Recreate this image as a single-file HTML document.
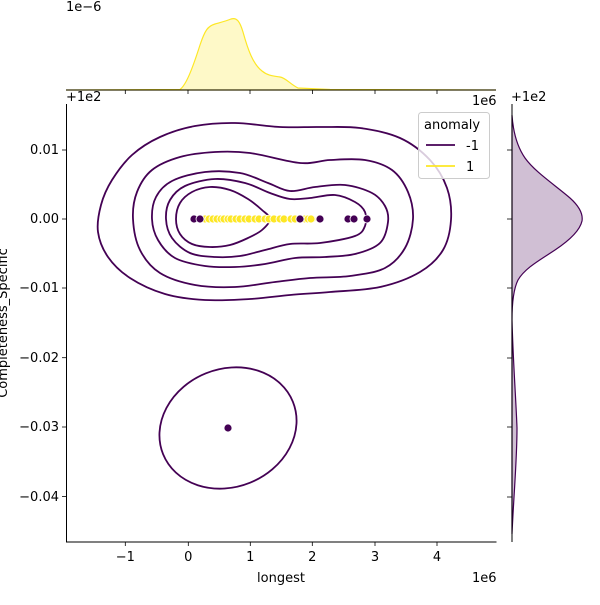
<!DOCTYPE html>
<html><head><meta charset="utf-8"><style>
body{margin:0;background:#fff;}
svg text{font-family:"DejaVu Sans","Liberation Sans",sans-serif;font-size:13px;fill:#000;}
</style></head><body>
<svg id="s" width="600" height="600" xmlns="http://www.w3.org/2000/svg">
<rect width="600" height="600" fill="#fff"/>
<g id="contours" fill="none" stroke="#440154" stroke-width="1.8"></g>
<ellipse cx="228" cy="428" rx="70" ry="59" transform="rotate(-22 228 428)" fill="none" stroke="#440154" stroke-width="1.8"/>
<g id="pts"></g>
<!-- top marginal -->
<path d="M66,90 L180,89.5 C186,85 192,70 200,45 C205,30 208,26 215,24 C222,22 226,21 231,19 C237,17 240,22 243,32 C248,50 253,64 262,71 C268,76 274,76 280,77 C286,78 290,84 298,88 L330,89.5 L496,90 Z" fill="#fde725" fill-opacity="0.25" stroke="#fde725" stroke-width="1.2"/>
<line x1="66" y1="90" x2="496" y2="90" stroke="#000" stroke-width="1"/>
<g stroke="#000" stroke-width="0.8"><line x1="125.3" y1="90" x2="125.3" y2="94"/><line x1="188" y1="90" x2="188" y2="94"/><line x1="250" y1="90" x2="250" y2="94"/><line x1="312.5" y1="90" x2="312.5" y2="94"/><line x1="375" y1="90" x2="375" y2="94"/><line x1="437" y1="90" x2="437" y2="94"/></g>
<text x="66" y="11">1e−6</text>
<!-- right marginal -->
<path d="M512,115 C513,130 516,145 525,158 C535,172 555,185 570,198 C580,207 583,215 582,221 C580,230 570,240 555,250 C540,260 525,268 518,280 C513,290 512,305 512,320 C513,360 516,400 517,428 C517,460 514,490 512,534 Z" fill="#440154" fill-opacity="0.25" stroke="#440154" stroke-width="1.2"/>
<line x1="512" y1="104" x2="512" y2="542" stroke="#000" stroke-width="1"/>
<g stroke="#000" stroke-width="0.8"><line x1="507" y1="150" x2="512" y2="150"/><line x1="507" y1="219" x2="512" y2="219"/><line x1="507" y1="288" x2="512" y2="288"/><line x1="507" y1="358" x2="512" y2="358"/><line x1="507" y1="427" x2="512" y2="427"/><line x1="507" y1="497" x2="512" y2="497"/></g>
<text x="511" y="101">+1e2</text>
<!-- main axes -->
<line x1="66.5" y1="104" x2="66.5" y2="542" stroke="#000" stroke-width="1"/>
<line x1="66" y1="542" x2="496.5" y2="542" stroke="#000" stroke-width="1"/>
<g stroke="#000" stroke-width="0.8">
<line x1="125.3" y1="542" x2="125.3" y2="546"/><line x1="188.3" y1="542" x2="188.3" y2="546"/><line x1="250.3" y1="542" x2="250.3" y2="546"/><line x1="312.3" y1="542" x2="312.3" y2="546"/><line x1="375" y1="542" x2="375" y2="546"/><line x1="437" y1="542" x2="437" y2="546"/>
<line x1="62" y1="150" x2="66" y2="150"/><line x1="62" y1="219" x2="66" y2="219"/><line x1="62" y1="288" x2="66" y2="288"/><line x1="62" y1="357.7" x2="66" y2="357.7"/><line x1="62" y1="427" x2="66" y2="427"/><line x1="62" y1="496.6" x2="66" y2="496.6"/>
</g>
<g text-anchor="middle">
<text x="125.3" y="561">−1</text><text x="188.3" y="561">0</text><text x="250.3" y="561">1</text><text x="312.3" y="561">2</text><text x="375" y="561">3</text><text x="437" y="561">4</text>
<text x="281" y="582">longest</text>
</g>
<text x="472" y="582">1e6</text>
<text x="472" y="105">1e6</text>
<text x="66" y="101">+1e2</text>
<g text-anchor="end">
<text x="59" y="154">0.01</text><text x="59" y="223">0.00</text><text x="59" y="292">−0.01</text><text x="59" y="362">−0.02</text><text x="59" y="431">−0.03</text><text x="59" y="501">−0.04</text>
</g>
<text transform="translate(7,323) rotate(-90)" text-anchor="middle">Completeness_Specific</text>
<!-- legend -->
<rect x="418.5" y="112.5" width="71" height="66" rx="3" fill="#fff" fill-opacity="0.8" stroke="#ccc" stroke-width="1"/>
<text x="424" y="129">anomaly</text>
<line x1="426" y1="145" x2="455" y2="145" stroke="#440154" stroke-width="1.8"/>
<line x1="426" y1="166" x2="455" y2="166" stroke="#fde725" stroke-width="1.8"/>
<text x="466" y="150">-1</text><text x="466" y="171">1</text>
</svg>
<script>
function cr(p){var d="M"+p[0][0]+","+p[0][1],n=p.length;
for(var i=0;i<n;i++){var p0=p[(i-1+n)%n],p1=p[i],p2=p[(i+1)%n],p3=p[(i+2)%n];
d+=" C"+(p1[0]+(p2[0]-p0[0])/6).toFixed(1)+","+(p1[1]+(p2[1]-p0[1])/6).toFixed(1)+" "+(p2[0]-(p3[0]-p1[0])/6).toFixed(1)+","+(p2[1]-(p3[1]-p1[1])/6).toFixed(1)+" "+p2[0]+","+p2[1];}
return d+"Z";}
var C=[
[[176,219],[180,203],[192,192],[210,187],[230,190],[248,199],[262,210],[270,219],[262,230],[248,238],[230,245],[210,247],[192,244],[180,234]],
[[166,219],[170,200],[185,186],[215,179],[245,183],[270,193],[290,199],[310,198],[335,195],[355,202],[365,212],[365,226],[355,236],[320,243],[290,244],[265,250],[240,256],[215,257],[190,253],[172,238]],
[[152,219],[156,197],[172,181],[205,172],[240,173],[268,183],[290,191],[315,187],[345,185],[372,193],[385,206],[388,222],[380,243],[355,254],[325,257],[295,258],[265,264],[235,267],[205,266],[175,258],[158,240]],
[[133,219],[137,192],[152,170],[180,157],[215,152],[250,153],[300,163],[330,160],[365,160],[392,170],[408,192],[413,219],[405,248],[385,268],[350,276],[310,278],[275,282],[235,287],[195,285],[160,273],[140,250]],
[[98,232],[101,205],[112,180],[132,155],[160,137],[195,126],[235,123],[280,127],[320,127],[360,128],[400,138],[430,160],[447,188],[451,220],[443,250],[420,272],[380,287],[330,292],[290,295],[250,299],[205,300],[165,294],[130,278],[108,257]]
];
var g=document.getElementById("contours"),h="";
C.forEach(function(p){h+='<path d="'+cr(p)+'"/>';});g.innerHTML=h;
var pts="",ys=[205,209,213,217,221,224,228,231,236,240,245,249,255,259,265,269,274,280,284,291,295,300,305,308,312];
ys.forEach(function(x){pts+='<circle cx="'+x+'" cy="219" r="4" fill="#fde725" stroke="#fff" stroke-width="0.8"/>';});
[194,200,300,320,348,354,367].forEach(function(x){pts+='<circle cx="'+x+'" cy="219" r="4" fill="#440154" stroke="#fff" stroke-width="0.8"/>';});
pts+='<circle cx="228" cy="428" r="4" fill="#440154" stroke="#fff" stroke-width="0.8"/>';
pts+='<circle cx="311" cy="219" r="4" fill="#fde725" stroke="#fff" stroke-width="0.8"/>';
document.getElementById("pts").innerHTML=pts;
</script>
</body></html>
